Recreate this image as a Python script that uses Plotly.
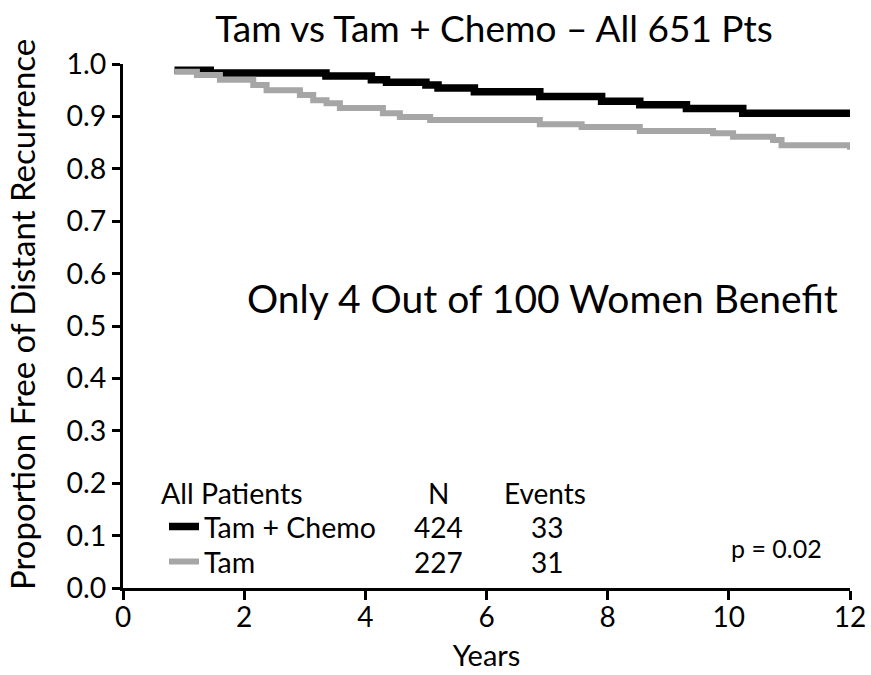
import plotly.graph_objects as go

# Tam + Chemo (black)
chemo_t = [0.85, 1.44, 3.35, 4.1, 4.35, 5.0, 5.2, 5.8, 6.88, 7.9, 8.53, 9.3, 10.23, 12.03]
chemo_s = [0.988, 0.983, 0.977, 0.970, 0.965, 0.960, 0.954, 0.947, 0.938, 0.929, 0.922, 0.915, 0.906, 0.906]

# Tam (grey)
tam_t = [0.85, 1.22, 1.6, 2.15, 2.37, 2.92, 3.14, 3.36, 3.58, 4.29, 4.57, 5.07, 6.88, 7.57,
         8.53, 9.74, 10.07, 10.73, 10.87, 12.0, 12.03]
tam_s = [0.985, 0.979, 0.970, 0.960, 0.950, 0.941, 0.931, 0.925, 0.916, 0.906, 0.899, 0.893,
         0.885, 0.880, 0.872, 0.868, 0.861, 0.855, 0.845, 0.842, 0.842]

groups = ["Tam + Chemo", "Tam"]
n_pts = ["424", "227"]
events = ["33", "31"]
p_value = "p = 0.02"

x_ticks = [0, 2, 4, 6, 8, 10, 12]
y_ticks = [0.0, 0.1, 0.2, 0.3, 0.4, 0.5, 0.6, 0.7, 0.8, 0.9, 1.0]

FONT = "Lato"
W, H = 871, 675
L, R, T, B = 123, 21, 64, 87
PW, PH = W - L - R, H - T - B

def px_x(px):  # page pixel -> paper x
    return (px - L) / PW

def px_y(px):  # page pixel -> paper y
    return (H - B - px) / PH

fig = go.Figure()
fig.add_trace(go.Scatter(x=chemo_t, y=chemo_s, mode="lines", line_shape="hv",
                         line=dict(color="#000000", width=7.5), name=groups[0], legend="legend"))
fig.add_trace(go.Scatter(x=tam_t, y=tam_s, mode="lines", line_shape="hv",
                         line=dict(color="#a6a6a6", width=6), name=groups[1], legend="legend2"))

leg_common = dict(xanchor="left", yanchor="middle", bgcolor="rgba(0,0,0,0)",
                  font=dict(size=28.5, family=FONT), itemwidth=30)

fig.update_layout(
    width=W, height=H,
    margin=dict(l=L, r=R, t=T, b=B, autoexpand=False),
    paper_bgcolor="white", plot_bgcolor="white",
    font=dict(family=FONT, color="black"),
    title=dict(text="Tam vs Tam + Chemo \u2013 All 651 Pts", x=494/W, xanchor="center",
               y=1 - 29/H, yanchor="middle", font=dict(size=37, family=FONT, color="black")),
    showlegend=True,
    legend=dict(x=px_x(164), y=px_y(527), **leg_common),
    legend2=dict(x=px_x(164), y=px_y(562), **leg_common),
)

fig.update_xaxes(range=[0, 12], tickvals=x_ticks, ticktext=[str(v) for v in x_ticks],
                 showline=True, linecolor="black", linewidth=3, ticks="outside",
                 ticklen=9, tickwidth=3, tickcolor="black", showgrid=False, zeroline=False,
                 tickfont=dict(size=28, family=FONT), ticklabelstandoff=-7,
                 title=dict(text="Years", font=dict(size=29, family=FONT), standoff=15))
fig.update_yaxes(range=[0, 1.0], tickvals=y_ticks, ticktext=[f"{v:.1f}" for v in y_ticks],
                 showline=True, linecolor="black", linewidth=3, ticks="outside",
                 ticklen=8, tickwidth=3, tickcolor="black", showgrid=False, zeroline=False,
                 tickfont=dict(size=28.5, family=FONT))

# y-axis title (annotation, so it can sit off-centre like the reference)
fig.add_annotation(xref="paper", yref="paper", x=px_x(22), y=px_y(315),
                   xanchor="center", yanchor="middle",
                   text="Proportion Free of Distant Recurrence", textangle=-90,
                   showarrow=False, font=dict(size=33, family=FONT))

fig.add_annotation(x=6.93, y=0.553, xref="x", yref="y", text="Only 4 Out of 100 Women Benefit",
                   showarrow=False, font=dict(size=39, family=FONT))

# legend header
fig.add_annotation(xref="paper", yref="paper", x=px_x(159), y=px_y(493),
                   xanchor="left", yanchor="middle", text="All Patients",
                   showarrow=False, font=dict(size=28.5, family=FONT))

col_n_x = 5.2
col_e_x = 7.0
row_y = [0.116, 0.05]
fig.add_annotation(x=col_n_x, y=0.181, text="N", showarrow=False, font=dict(size=28, family=FONT))
fig.add_annotation(x=col_e_x - 0.04, y=0.181, text="Events", showarrow=False, font=dict(size=28, family=FONT))
for i in range(2):
    fig.add_annotation(x=col_n_x, y=row_y[i], text=n_pts[i], showarrow=False,
                       font=dict(size=28, family=FONT))
    fig.add_annotation(x=col_e_x, y=row_y[i], text=events[i], showarrow=False,
                       font=dict(size=28, family=FONT))
fig.add_annotation(x=10.78, y=0.076, text=p_value, showarrow=False, font=dict(size=25, family=FONT))

fig.write_html("out.html", config={"displayModeBar": False},
               post_script="document.body.style.margin='0';document.body.style.overflow='hidden';")
